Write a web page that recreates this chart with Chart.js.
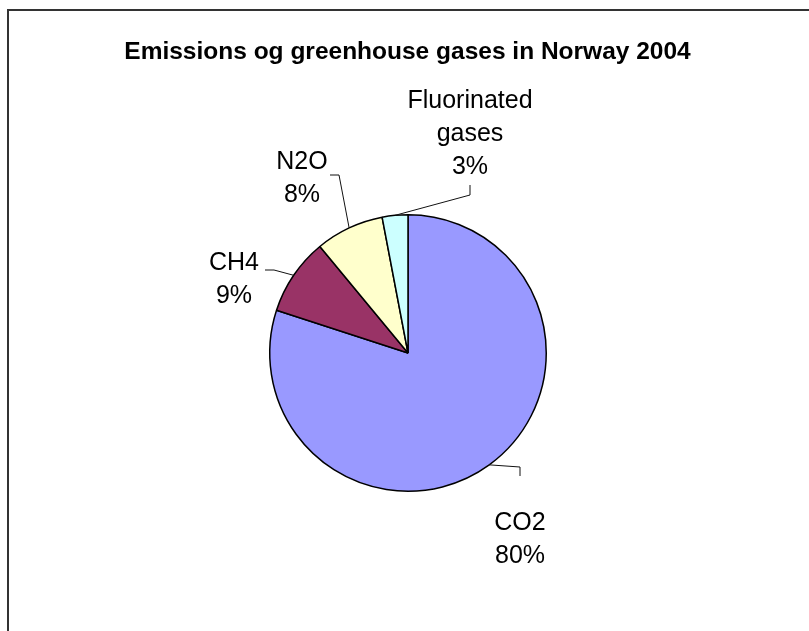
<!DOCTYPE html>
<html>
<head>
<meta charset="utf-8">
<title>Emissions og greenhouse gases in Norway 2004</title>
<script src="https://cdn.jsdelivr.net/npm/chart.js@4.4.1/dist/chart.umd.min.js"></script>
<style>
    html, body { margin: 0; padding: 0; background: #fff; overflow: hidden; }
    #wrap { position: relative; width: 809px; height: 631px; }
    /* chart frame, only the top and left edges fall inside the window */
    #frame {
        position: absolute; left: 7px; top: 9px; width: 900px; height: 700px;
        border-left: 2px solid #333; border-top: 2px solid #333;
        pointer-events: none;
    }
    #emissionsChart { position: absolute; left: 0; top: 0; }
</style>
</head>
<body>
<div id="wrap">
    <canvas id="emissionsChart" width="809" height="631"></canvas>
    <div id="frame"></div>
</div>
<script>
// Anteil der Treibhausgase (Norwegen 2004)
const chartTitle = 'Emissions og greenhouse gases in Norway 2004';
const gases = ['CO2', 'CH4', 'N2O', ['Fluorinated', 'gases']];
const shares = [80, 9, 8, 3];
const sliceColors = ['#9999ff', '#993366', '#ffffcc', '#ccffff'];

// callout layout, relative to the pie centre:
// leader end (ax, ay), elbow direction, and centre of the text block (tx, ty)
const labelPlacement = [
    { ax: 112, ay: 123, elbow: 'up', tx: 112, ty: 184 },
    { ax: -143, ay: -83, elbow: 'right', tx: -174, ty: -76 },
    { ax: -78, ay: -178, elbow: 'right', tx: -106, ty: -177 },
    { ax: 62, ay: -168, elbow: 'down', tx: 62, ty: -221 }
];

const FONT_FAMILY = '"Liberation Sans", Arial, sans-serif';
const LINE_STEP = 33;
const CAP = 18;

// title and data callouts, drawn straight onto the canvas
const calloutLabels = {
    id: 'calloutLabels',
    afterDraw(chart) {
        const ctx = chart.ctx;
        const meta = chart.getDatasetMeta(0);
        const total = shares.reduce((a, b) => a + b, 0);

        ctx.save();
        ctx.fillStyle = '#000';
        ctx.textAlign = 'center';
        ctx.textBaseline = 'middle';
        ctx.font = 'bold 24.5px ' + FONT_FAMILY;
        ctx.fillText(chartTitle, chart.width / 2 + 3, 52);

        ctx.font = '25px ' + FONT_FAMILY;
        ctx.strokeStyle = '#111';
        ctx.lineWidth = 1;
        ctx.textBaseline = 'alphabetic';

        meta.data.forEach((arc, i) => {
            const { x, y, startAngle, endAngle, outerRadius } =
                arc.getProps(['x', 'y', 'startAngle', 'endAngle', 'outerRadius'], true);
            const mid = (startAngle + endAngle) / 2;
            const ex = x + Math.cos(mid) * outerRadius;
            const ey = y + Math.sin(mid) * outerRadius;

            const p = labelPlacement[i];
            const ax = x + p.ax;
            const ay = y + p.ay;
            let kx = ax, ky = ay;
            if (p.elbow === 'up') ky = ay - 9;
            if (p.elbow === 'down') ky = ay + 10;
            if (p.elbow === 'right') kx = ax + 9;

            // leader line
            ctx.beginPath();
            ctx.moveTo(ex, ey);
            ctx.lineTo(kx, ky);
            ctx.lineTo(ax, ay);
            ctx.stroke();

            const name = Array.isArray(gases[i]) ? gases[i] : [gases[i]];
            const lines = name.concat(Math.round(shares[i] / total * 100) + '%');
            const top = y + p.ty - (lines.length - 1) / 2 * LINE_STEP;
            lines.forEach((t, k) => ctx.fillText(t, x + p.tx, top + k * LINE_STEP + CAP / 2));
        });
        ctx.restore();
    }
};

new Chart(document.getElementById('emissionsChart'), {
    type: 'pie',
    data: {
        labels: gases,
        datasets: [{
            data: shares,
            backgroundColor: sliceColors,
            borderColor: '#000',
            borderWidth: 1.5
        }]
    },
    options: {
        responsive: false,
        animation: false,
        layout: {
            padding: { left: 269, right: 262, top: 214, bottom: 139 }
        },
        plugins: {
            legend: { display: false },
            tooltip: { enabled: false },
            title: { display: false }
        }
    },
    plugins: [calloutLabels]
});
</script>
</body>
</html>
